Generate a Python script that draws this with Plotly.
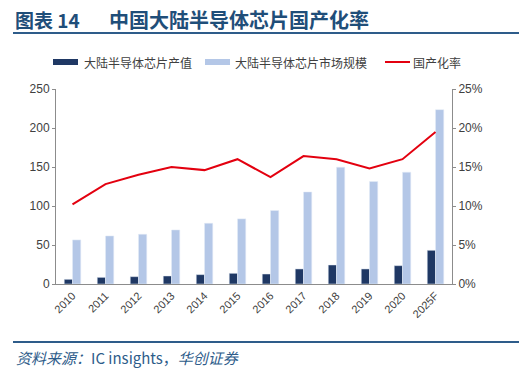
import plotly.graph_objects as go

years = ["2010", "2011", "2012", "2013", "2014", "2015", "2016", "2017", "2018", "2019", "2020", "2025F"]
output_value = [6, 8.5, 9.4, 10.3, 12, 13.7, 12.8, 19.3, 24.4, 19.3, 23.5, 43.2]
market_size = [56.5, 61.6, 63.8, 69.3, 77.9, 83.5, 94.2, 118, 149.8, 131.4, 143.4, 223.5]
self_sufficiency = [10.2, 12.8, 14.0, 15.0, 14.6, 16.0, 13.7, 16.4, 16.0, 14.8, 16.0, 19.5]
series_names = ["大陆半导体芯片产值", "大陆半导体芯片市场规模", "国产化率"]
series_colors = ["#1F3864", "#B4C7E7", "#E3000F"]

FONT = "Noto Sans CJK SC, Arial, sans-serif"
L, R, T, B = 56, 452, 89, 284
W, H = R - L, B - T


def px(x):
    return (x - L) / W


def py(y):
    return (B - y) / H


fig = go.Figure()
fig.add_trace(go.Bar(x=years, y=output_value, name=series_names[0],
                     marker_color=series_colors[0], yaxis="y"))
fig.add_trace(go.Bar(x=years, y=market_size, name=series_names[1],
                     marker_color=series_colors[1], yaxis="y"))
fig.add_trace(go.Scatter(x=years, y=self_sufficiency, name=series_names[2], mode="lines",
                         line=dict(color=series_colors[2], width=2), yaxis="y2"))

fig.update_layout(
    width=519, height=375,
    paper_bgcolor="white", plot_bgcolor="white",
    margin=dict(l=L, r=519 - R, t=T, b=375 - B),
    barmode="group", bargap=0.5, bargroupgap=0,
    font=dict(family=FONT, size=11, color="#404040"),
    showlegend=False,
    xaxis=dict(type="category", tickangle=-45, showline=True, linecolor="#8c8c8c",
               ticks="", showgrid=False, automargin=False,
               tickfont=dict(size=11, family="Arial", color="#404040")),
    yaxis=dict(range=[0, 250], dtick=50, showline=True, linecolor="#8c8c8c",
               ticks="outside", ticklen=3, tickcolor="#8c8c8c", showgrid=False,
               zeroline=False, automargin=False,
               tickfont=dict(size=12, family="Arial", color="#404040")),
    yaxis2=dict(range=[0, 25], dtick=5, overlaying="y", side="right", showline=True,
                linecolor="#8c8c8c", ticks="outside", ticklen=3, tickcolor="#8c8c8c",
                ticksuffix="%", showgrid=False, zeroline=False, automargin=False,
                tickfont=dict(size=12, family="Arial", color="#404040")),
)

# Legend (manual, to match wide flat swatches)
legend_items = [(53, 78, 82), (205, 230, 233), (385, 410, 411)]
for (x0, x1, tx), name, col, kind in zip(legend_items, series_names, series_colors,
                                          ["bar", "bar", "line"]):
    if kind == "bar":
        fig.add_shape(type="rect", xref="paper", yref="paper",
                      x0=px(x0), x1=px(x1), y0=py(65), y1=py(59),
                      fillcolor=col, line=dict(width=0))
    else:
        fig.add_shape(type="line", xref="paper", yref="paper",
                      x0=px(x0), x1=px(x1), y0=py(62), y1=py(62),
                      line=dict(color=col, width=2))
    fig.add_annotation(xref="paper", yref="paper", xanchor="left", yanchor="middle",
                       x=px(tx), y=py(62), text=name, showarrow=False,
                       font=dict(family=FONT, size=12, color="#404040"))

# Title
fig.add_annotation(xref="paper", yref="paper", xanchor="left", yanchor="middle",
                   x=px(13), y=py(20),
                   text="<b>图表 14</b>", showarrow=False,
                   font=dict(family=FONT, size=19, color="#1F4E79"))
fig.add_annotation(xref="paper", yref="paper", xanchor="left", yanchor="middle",
                   x=px(107), y=py(20),
                   text="<b>中国大陆半导体芯片国产化率</b>", showarrow=False,
                   font=dict(family=FONT, size=20, color="#1F4E79"))
# Source
fig.add_annotation(xref="paper", yref="paper", xanchor="left", yanchor="middle",
                   x=px(14), y=py(357),
                   text="<i>资料来源：</i>IC insights，<i>华创证券</i>", showarrow=False,
                   font=dict(family=FONT, size=15, color="#2E5C8A"))
fig.add_shape(type="line", xref="paper", yref="paper",
              x0=px(13), x1=px(519), y0=py(33), y1=py(33),
              line=dict(color="#2E5C8A", width=2))
fig.add_shape(type="line", xref="paper", yref="paper",
              x0=px(13), x1=px(519), y0=py(342), y1=py(342),
              line=dict(color="#2E5C8A", width=2))

fig.write_html("out.html", config={"displayModeBar": False},
               post_script="document.body.style.margin='0';")
